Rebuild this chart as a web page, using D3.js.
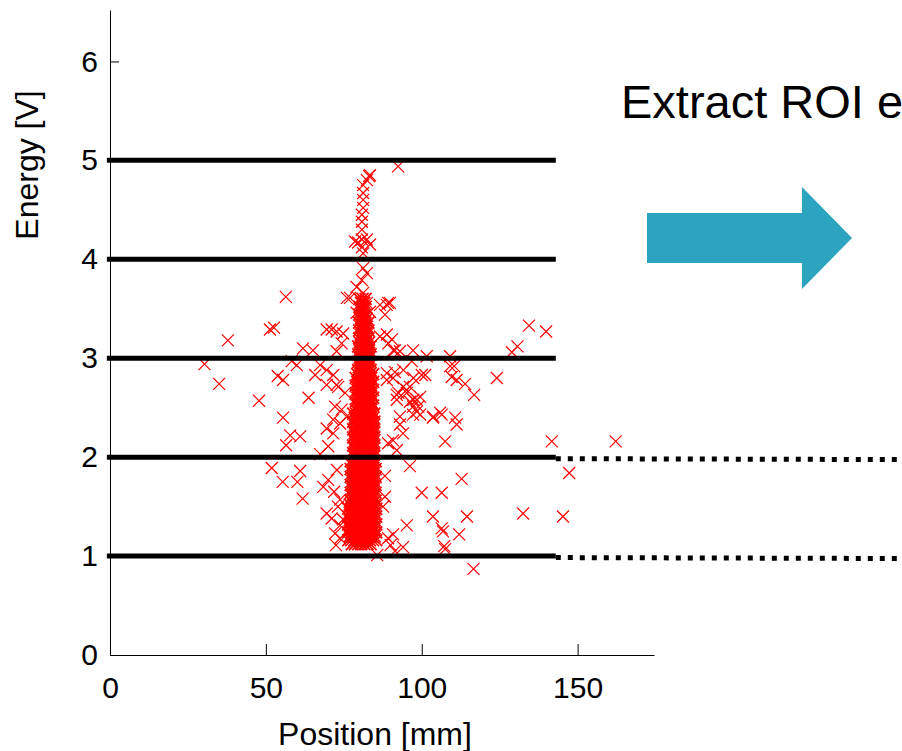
<!DOCTYPE html>
<html><head><meta charset="utf-8">
<script src="https://cdn.jsdelivr.net/npm/d3@7"></script>
<style>html,body{margin:0;padding:0;background:#fff;overflow:hidden}</style>
</head><body>
<svg id="chart" width="902" height="751"></svg>
<script>
// ---- data ----
const xTicks = [0, 50, 100, 150];
const yTicks = [0, 1, 2, 3, 4, 5, 6];
const xLabel = "Position [mm]";
const yLabel = "Energy [V]";
const annotation = "Extract ROI e";
const thresholdLevels = [5, 4, 3, 2, 1];     // V
const extendedLevels = [2, 1];               // V (continued dotted)
const thresholdStart = -1, thresholdEnd = 143, extendedEnd = 260; // mm

// scattered events [position mm, energy V]
const outliers = [
 [92.4,4.94],[56.4,3.62],[51.3,3.29],[52.6,3.31],[37.8,3.18],[30.3,2.94],[35.0,2.74],[47.8,2.57],
 [53.8,2.82],[55.5,2.78],[58.3,2.97],[59.9,2.93],[61.9,3.10],[65.1,3.08],[63.7,2.60],[69.5,3.29],
 [71.1,3.29],[72.7,3.27],[74.8,3.25],[67.4,2.93],[65.8,2.83],[69.5,2.88],[71.6,2.83],[69.5,2.73],
 [72.7,2.73],[72.2,2.51],[69.5,2.29],[71.6,2.38],[73.8,2.34],[71.6,2.24],[70.0,2.11],[76.0,3.61],
 [55.5,2.40],[57.8,2.22],[56.5,2.12],[61.0,2.21],[51.9,1.89],[55.4,1.75],[60.1,1.75],[61.0,1.86],
 [61.8,1.58],[67.4,2.03],[68.4,1.70],[70.0,1.77],[69.5,1.43],[71.1,1.38],[72.2,1.23],[74.3,3.15],
 [72.7,3.07],[73.2,2.71],[75.4,2.65],[74.3,2.48],[75.9,2.41],[73.8,1.57],[73.1,1.50],[74.8,1.37],
 [73.8,1.18],[72.8,1.87],[71.9,1.65],[73.8,1.31],[72.5,1.11],
 [89.8,3.56],[88.8,3.54],[134.4,3.33],[139.9,3.27],[130.7,3.12],[128.9,3.06],[124.1,2.80],[116.8,2.63],
 [113.9,2.74],[111.2,2.78],[109.6,2.81],[109.1,2.92],[110.4,2.92],[109.1,3.02],[100.0,2.83],[101.1,2.83],
 [97.2,3.08],[96.8,2.97],[86.6,3.22],[89.3,3.15],[90.9,3.08],[88.8,2.85],[91.4,2.86],[94.1,2.88],
 [97.3,2.80],[96.2,2.71],[92.5,2.65],[95.2,2.68],[92.0,2.58],[97.3,2.58],[98.9,2.51],[101.6,3.02],
 [103.7,2.41],[106.4,2.43],[111.2,2.33],[107.5,2.16],[141.7,2.16],[162.2,2.16],[147.3,1.84],[132.5,1.43],
 [145.3,1.40],[116.6,0.87],[96.2,1.91],[112.8,1.78],[100.0,1.64],[106.4,1.64],[103.6,1.40],[114.5,1.40],
 [95.2,1.31],[106.4,1.28],[106.8,1.25],[112.0,1.22],[90.8,1.22],[89.2,1.18],[94.0,1.09],[107.2,1.10],
 [107.5,1.07],[103.6,2.40],[93.0,2.33],[94.0,2.24],[90.8,2.17],[92.0,2.07],[89.2,2.14],[97.2,2.43],
 [99.5,2.43],[88.2,1.81],[88.2,1.60],[87.6,1.50],[88.8,3.24],[90.4,3.19],[91.4,3.08],[93.0,3.07],
 [88.8,2.78],[90.8,2.80],[94.0,2.71],[92.0,2.63],[95.2,2.65],[96.2,2.56],[98.4,2.58],[99.5,2.61],
 [97.2,2.51],[98.4,2.46],[105.9,2.45],[93.0,2.41],[110.7,2.40],[85.7,1.01],[90.0,1.11],[91.4,1.05],
 [86.6,3.54],[88.2,3.44]
];

// thin upper part of the main column [position mm, energy V]
const upperColumn = [
 [83.4,4.85],[83.1,4.84],[82.4,4.80],[81.2,4.75],[81.2,4.67],[81.2,4.60],[81.2,4.52],[80.8,4.45],
 [80.8,4.38],[80.8,4.30],[80.8,4.20],[78.6,4.18],[79.6,4.17],[82.4,4.20],[83.4,4.15],[80.8,4.12],
 [81.2,4.06],[81.2,3.91],[82.4,3.86],[80.8,3.79],[79.1,3.72],[81.2,3.66],[77.0,3.61],[82.4,3.56],
 [89.2,3.56],[80.2,3.51],[83.4,3.47],[79.1,3.46],[81.2,3.42]
];

// dense core of the column: [energy V, positions mm ...]
const coreRows = [
 [1.12, 77.6,78.6,79.6,80.6,81.6,82.6,83.6],
 [1.16, 76.4,77.4,78.4,79.4,80.4,81.4,82.4,83.4,84.4,85.4],
 [1.20, 76.9,77.9,78.9,79.9,80.9,81.9,82.9,83.9,84.9],
 [1.24, 76.4,77.4,78.4,79.4,80.4,81.4,82.4,83.4,84.4,85.4],
 [1.28, 76.9,77.9,78.9,79.9,80.9,81.9,82.9,83.9,84.9],
 [1.32, 76.4,77.4,78.4,79.4,80.4,81.4,82.4,83.4,84.4,85.4],
 [1.36, 76.9,77.9,78.9,79.9,80.9,81.9,82.9,83.9,84.9],
 [1.40, 76.4,77.4,78.4,79.4,80.4,81.4,82.4,83.4,84.4,85.4],
 [1.44, 76.9,77.9,78.9,79.9,80.9,81.9,82.9,83.9,84.9],
 [1.48, 76.4,77.4,78.4,79.4,80.4,81.4,82.4,83.4,84.4,85.4],
 [1.52, 76.9,77.9,78.9,79.9,80.9,81.9,82.9,83.9,84.9],
 [1.56, 77.2,78.2,79.2,80.2,81.2,82.2,83.2,84.2,85.2],
 [1.60, 77.7,78.7,79.7,80.7,81.7,82.7,83.7,84.7],
 [1.64, 77.2,78.2,79.2,80.2,81.2,82.2,83.2,84.2,85.2],
 [1.68, 77.7,78.7,79.7,80.7,81.7,82.7,83.7,84.7],
 [1.72, 77.2,78.2,79.2,80.2,81.2,82.2,83.2,84.2,85.2],
 [1.76, 77.7,78.7,79.7,80.7,81.7,82.7,83.7,84.7],
 [1.80, 77.2,78.2,79.2,80.2,81.2,82.2,83.2,84.2,85.2],
 [1.84, 77.7,78.7,79.7,80.7,81.7,82.7,83.7,84.7],
 [1.88, 77.2,78.2,79.2,80.2,81.2,82.2,83.2,84.2,85.2],
 [1.92, 77.7,78.7,79.7,80.7,81.7,82.7,83.7,84.7],
 [1.96, 77.2,78.2,79.2,80.2,81.2,82.2,83.2,84.2,85.2],
 [2.00, 78.5,79.5,80.5,81.5,82.5,83.5,84.5],
 [2.04, 78.0,79.0,80.0,81.0,82.0,83.0,84.0,84.8],
 [2.08, 78.5,79.5,80.5,81.5,82.5,83.5,84.5],
 [2.12, 78.0,79.0,80.0,81.0,82.0,83.0,84.0,84.8],
 [2.16, 78.5,79.5,80.5,81.5,82.5,83.5,84.5],
 [2.20, 78.0,79.0,80.0,81.0,82.0,83.0,84.0,84.8],
 [2.24, 78.5,79.5,80.5,81.5,82.5,83.5,84.5],
 [2.28, 78.0,79.0,80.0,81.0,82.0,83.0,84.0,84.8],
 [2.32, 78.5,79.5,80.5,81.5,82.5,83.5,84.5],
 [2.36, 78.0,79.0,80.0,81.0,82.0,83.0,84.0,84.8],
 [2.40, 78.5,79.5,80.5,81.5,82.5,83.5,84.5],
 [2.44, 78.0,79.0,80.0,81.0,82.0,83.0,84.0,84.8],
 [2.48, 78.8,79.8,80.8,81.8,82.8,83.8],
 [2.52, 79.3,80.3,81.3,82.3,83.3,84.4],
 [2.56, 78.8,79.8,80.8,81.8,82.8,83.8],
 [2.60, 79.3,80.3,81.3,82.3,83.3,84.4],
 [2.64, 78.8,79.8,80.8,81.8,82.8,83.8],
 [2.68, 79.3,80.3,81.3,82.3,83.3,84.4],
 [2.72, 78.8,79.8,80.8,81.8,82.8,83.8],
 [2.76, 79.3,80.3,81.3,82.3,83.3,84.4],
 [2.80, 78.8,79.8,80.8,81.8,82.8,83.8],
 [2.84, 79.3,80.3,81.3,82.3,83.3,84.4],
 [2.88, 79.6,80.6,81.6,82.6,83.6],
 [2.92, 80.1,81.1,82.1,83.1],
 [2.96, 79.6,80.6,81.6,82.6,83.6],
 [3.00, 80.1,81.1,82.1,83.1],
 [3.04, 79.6,80.6,81.6,82.6,83.6],
 [3.08, 80.1,81.1,82.1,83.1],
 [3.12, 79.6,80.6,81.6,82.6,83.6],
 [3.16, 80.1,81.1,82.1,83.1],
 [3.20, 79.9,80.9,81.9,82.9],
 [3.24, 80.4,81.4,82.4],
 [3.28, 79.9,80.9,81.9,82.9],
 [3.32, 80.4,81.4,82.4],
 [3.36, 79.9,80.9,81.9,82.9],
 [3.40, 80.4,81.4,82.4],
 [3.44, 80.0,81.0,82.0],
 [3.48, 80.5,81.5],
 [3.52, 80.0,81.0,82.0],
 [3.56, 80.5,81.5],
 [3.60, 80.0,81.0,82.0]
];

// ---- layout ----
const svg = d3.select("#chart");
const FONT = "'Liberation Sans', Arial, Helvetica, sans-serif";
const x = d3.scaleLinear().domain([0, 174.5]).range([110, 654]);
const y = d3.scaleLinear().domain([0, 6.52]).range([655, 10]);

const corePoints = [];
coreRows.forEach(r => { for (let i = 1; i < r.length; i++) corePoints.push([r[i], r[0]]); });
const scattered = upperColumn.concat(outliers);

const marker = "M-6,-6L6,6M-6,6L6,-6";
const gp = svg.append("g").attr("class", "points");
gp.append("g").selectAll("path").data(corePoints).join("path")
  .attr("transform", d => `translate(${x(d[0])},${y(d[1])})`)
  .attr("d", marker).attr("fill", "none").attr("stroke", "#ff0000").attr("stroke-width", 1.7);
gp.append("g").selectAll("path").data(scattered).join("path")
  .attr("transform", d => `translate(${x(d[0])},${y(d[1])})`)
  .attr("d", marker).attr("fill", "none").attr("stroke", "#ff0000").attr("stroke-width", 1.2);

// threshold lines
svg.append("g").selectAll("line").data(thresholdLevels).join("line")
  .attr("x1", x(thresholdStart)).attr("x2", x(thresholdEnd))
  .attr("y1", d => y(d)).attr("y2", d => y(d))
  .attr("stroke", "#000").attr("stroke-width", 5);

svg.append("g").selectAll("line").data(extendedLevels).join("line")
  .attr("x1", x(thresholdEnd)).attr("x2", x(extendedEnd))
  .attr("y1", d => y(d) + 1.5).attr("y2", d => y(d) + 2.5)
  .attr("stroke", "#000").attr("stroke-width", 5).attr("stroke-dasharray", "5,7");

// axes
const gx = svg.append("g").attr("transform", `translate(0,${y(0)})`)
  .call(d3.axisBottom(x).tickValues(xTicks).tickFormat(d3.format("d"))
    .tickSizeInner(-11).tickSizeOuter(0).tickPadding(22));
const gy = svg.append("g").attr("transform", `translate(${x(0)},0)`)
  .call(d3.axisLeft(y).tickValues(yTicks).tickFormat(d3.format("d"))
    .tickSizeInner(-9).tickSizeOuter(0).tickPadding(12));
[gx, gy].forEach(g => {
  g.selectAll("path.domain").attr("stroke", "#000").attr("stroke-width", 1);
  g.selectAll(".tick line").attr("stroke", "#000").attr("stroke-width", 1);
  g.selectAll(".tick text").attr("font-family", FONT).attr("font-size", 30).attr("fill", "#000");
});

// axis titles
svg.append("text").attr("x", 375).attr("y", 745).attr("text-anchor", "middle")
  .attr("font-family", FONT).attr("font-size", 32).attr("fill", "#000").text(xLabel);
svg.append("text").attr("transform", "translate(38,165) rotate(-90)").attr("text-anchor", "middle")
  .attr("font-family", FONT).attr("font-size", 32).attr("fill", "#000").text(yLabel);

// annotation + arrow
svg.append("text").attr("x", 621).attr("y", 118)
  .attr("font-family", FONT).attr("font-size", 47).attr("fill", "#000").text(annotation);
const arrow = [[647,213],[802,213],[802,187],[852,238],[802,289],[802,263],[647,263]];
svg.append("path").attr("d", d3.line()(arrow) + "Z").attr("fill", "#2ca3bf");
</script>
</body></html>
